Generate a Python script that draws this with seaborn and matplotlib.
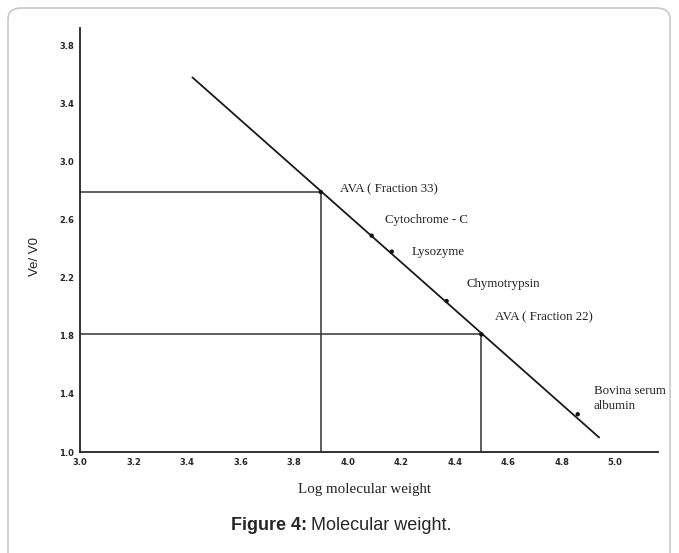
import matplotlib
matplotlib.use("Agg")
import matplotlib.pyplot as plt
import seaborn as sns
import pandas as pd
from matplotlib.patches import FancyBboxPatch

# data
proteins = ["AVA ( Fraction 33)", "Cytochrome - C", "Lysozyme", "Chymotrypsin",
            "AVA ( Fraction 22)", "Bovina serum\nalbumin"]
log_mw = [3.90, 4.09, 4.165, 4.37, 4.50, 4.86]
ve_v0 = [2.79, 2.49, 2.38, 2.04, 1.81, 1.26]
label_x = [3.97, 4.14, 4.24, 4.445, 4.55, 4.92]
label_y = [2.81, 2.60, 2.38, 2.16, 1.93, 1.37]
fit_x = [3.42, 4.94]
fit_y = [3.58, 1.10]
x_ticks = [3.0, 3.2, 3.4, 3.6, 3.8, 4.0, 4.2, 4.4, 4.6, 4.8, 5.0]
y_ticks = [1.0, 1.4, 1.8, 2.2, 2.6, 3.0, 3.4, 3.8]

sns.set_style("white")
plt.rcParams['font.family'] = ['DejaVu Sans']

fig = plt.figure(figsize=(6.79, 5.53), dpi=100)
border = FancyBboxPatch((8/679, -20/553), 662/679, (553 - 8 + 20)/553,
                        boxstyle="round,pad=0,rounding_size=0.02",
                        transform=fig.transFigure, facecolor="none",
                        edgecolor="#c8c8c8", linewidth=1.2, zorder=-5)
fig.add_artist(border)

ax = fig.add_axes([80/679, 1 - 452/553, 578/679, 424/553])
ax.set_facecolor("none")

df = pd.DataFrame({"x": log_mw, "y": ve_v0, "name": proteins})
fit = pd.DataFrame({"x": fit_x, "y": fit_y})

sns.lineplot(data=fit, x="x", y="y", ax=ax, color="#1a1a1a", linewidth=1.3)
sns.scatterplot(data=df, x="x", y="y", ax=ax, color="#111111", s=10,
                edgecolor="none", zorder=5)

# guide lines for the two AVA fractions
for i in (0, 4):
    ax.plot([x_ticks[0], log_mw[i]], [ve_v0[i], ve_v0[i]], color="#333333", lw=1.1)
    ax.plot([log_mw[i], log_mw[i]], [y_ticks[0], ve_v0[i]], color="#333333", lw=1.1)

for name, lx, ly in zip(proteins, label_x, label_y):
    ax.text(lx, ly, name, family="Liberation Serif", fontsize=9.3,
            color="#222222", ha="left", va="center", linespacing=1.3)

ax.set_xlim(3.0, 5.16)
ax.set_ylim(1.0, 3.92)
ax.set_xticks(x_ticks)
ax.set_yticks(y_ticks)
ax.set_xticklabels([f"{v:.1f}" for v in x_ticks], fontsize=6, fontweight="bold")
ax.set_yticklabels([f"{v:.1f}" for v in y_ticks], fontsize=6, fontweight="bold")
ax.tick_params(axis="both", length=2.5, width=1, direction="inout", color="#222222",
               pad=3)
for s in ("top", "right"):
    ax.spines[s].set_visible(False)
for s in ("left", "bottom"):
    ax.spines[s].set_color("#222222")
    ax.spines[s].set_linewidth(1.3)

ax.set_xlabel("")
ax.set_ylabel("")
fig.text(365/679, 1 - 490/553, "Log molecular weight", family="Liberation Serif",
         fontsize=10.8, ha="center", va="center", color="#222222")
fig.text(35/679, 1 - 257/553, "Ve/ V0", family="Liberation Sans",
         fontsize=9.5, ha="center", va="center", rotation=90, color="#222222")

t1 = fig.text(231/679, 1 - 525/553, "Figure 4:", family="Liberation Sans",
              fontsize=13, fontweight="bold", ha="left", va="center")
fig.canvas.draw()
bb = t1.get_window_extent()
fig.text((bb.x1 + 4) / 679, 1 - 525/553, "Molecular weight.", family="Liberation Sans",
         fontsize=13, ha="left", va="center")

fig.savefig("out.png", dpi=100)
